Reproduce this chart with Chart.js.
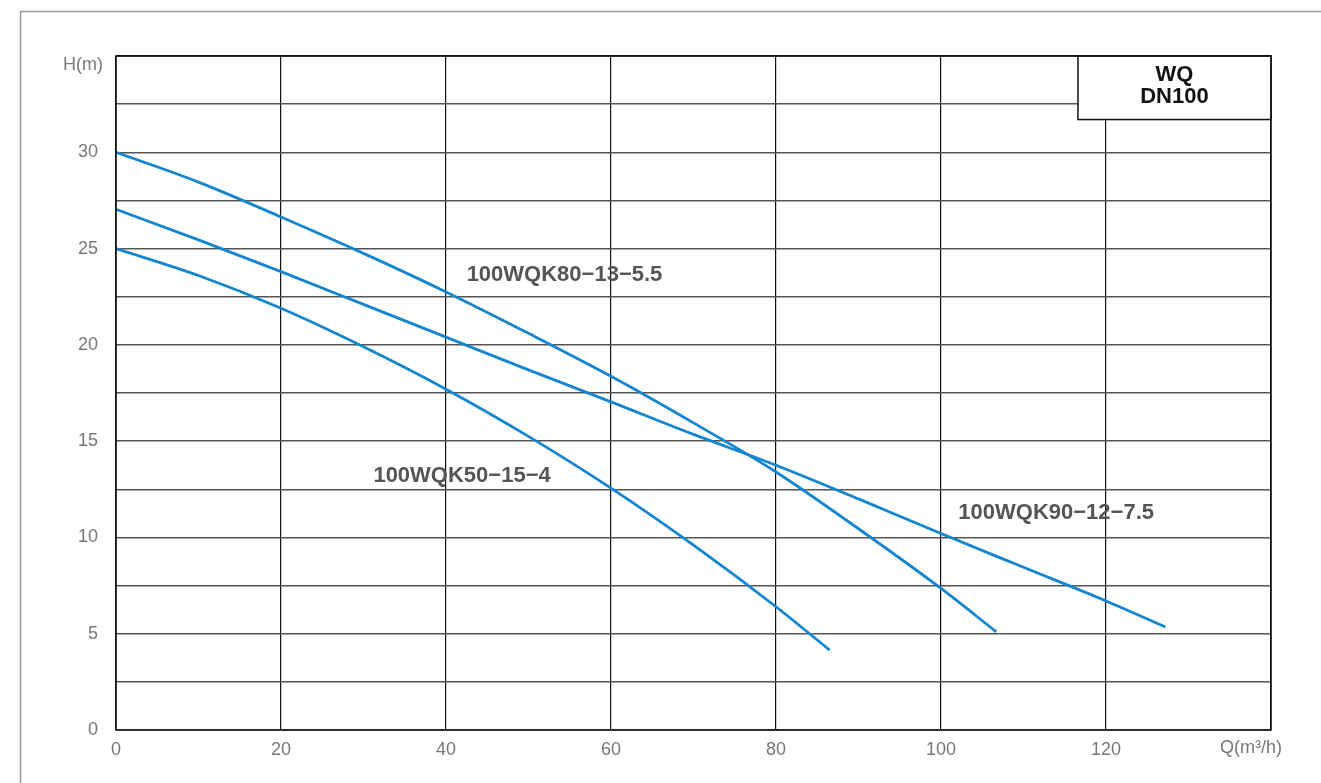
<!DOCTYPE html>
<html>
<head>
<meta charset="utf-8">
<script src="https://cdn.jsdelivr.net/npm/chart.js@4/dist/chart.umd.min.js"></script>
<style>
  html, body { margin: 0; padding: 0; background: #fff; }
  canvas { display: block; }
</style>
</head>
<body>
<canvas id="pumpChart" width="1321" height="783"></canvas>
<script>
// Curve data (Q in m3/h, H in m)
const q80 = [0, 10, 20, 30, 40, 50, 60, 70, 80, 90, 100, 106.7];
const h80 = [30, 28.45, 26.64, 24.75, 22.75, 20.6, 18.37, 15.95, 13.4, 10.45, 7.35, 5.1];

const q90 = [0, 10, 20, 30, 40, 50, 60, 70, 80, 90, 100, 110, 120, 127.2];
const h90 = [27.04, 25.45, 23.8, 22.1, 20.4, 18.7, 17.04, 15.35, 13.75, 12.0, 10.2, 8.45, 6.7, 5.35];

const q50 = [0, 10, 20, 30, 40, 50, 60, 70, 80, 86.5];
const h50 = [25, 23.6, 21.9, 19.9, 17.7, 15.25, 12.56, 9.6, 6.4, 4.15];

const seriesNames = ['100WQK80\u221213\u22125.5', '100WQK90\u221212\u22127.5', '100WQK50\u221215\u22124'];
// where each name sits (left edge Q, middle H)
const labelQ = [42.5, 102.1, 31.2];
const labelH = [23.65, 11.25, 13.2];

const boxTitle = ['WQ', 'DN100'];
const yAxisTitle = 'H(m)';
const xAxisTitle = 'Q(m\u00B3/h)';

function toPoints(qs, hs) {
    return qs.map((q, i) => ({ x: q, y: hs[i] }));
}

const blue = '#1485d1';
const FONT = '"Liberation Sans", Arial, sans-serif';

const decor = {
    id: 'decor',
    beforeDraw(chart) {
        const ctx = chart.ctx;
        ctx.save();
        // outer frame of the sheet
        ctx.strokeStyle = '#9a9a9a';
        ctx.lineWidth = 1.5;
        ctx.strokeRect(20.5, 11.5, 1400, 900);
        ctx.restore();
    },
    afterDatasetsDraw(chart) {
        const ctx = chart.ctx;
        const xs = chart.scales.x, ys = chart.scales.y;
        const area = chart.chartArea;
        ctx.save();

        // curve names
        ctx.fillStyle = '#555';
        ctx.font = 'bold 22px ' + FONT;
        ctx.textAlign = 'left';
        ctx.textBaseline = 'middle';
        seriesNames.forEach((name, i) => {
            ctx.fillText(name, xs.getPixelForValue(labelQ[i]), ys.getPixelForValue(labelH[i]));
        });

        // title box, top right
        const bx = xs.getPixelForValue(116.6);
        const by = area.top;
        const bw = area.right - bx;
        const bh = ys.getPixelForValue(31.7) - by;
        ctx.fillStyle = '#fff';
        ctx.fillRect(bx, by, bw, bh);
        ctx.strokeStyle = '#111';
        ctx.lineWidth = 1.5;
        ctx.strokeRect(bx, by, bw, bh);
        ctx.fillStyle = '#111';
        ctx.font = 'bold 22px ' + FONT;
        ctx.textAlign = 'center';
        ctx.fillText(boxTitle[0], bx + bw / 2, by + 19);
        ctx.fillText(boxTitle[1], bx + bw / 2, by + 41);

        // plot frame
        ctx.strokeStyle = '#111';
        ctx.lineWidth = 1.5;
        ctx.strokeRect(area.left, area.top, area.right - area.left, area.bottom - area.top);

        // axis units
        ctx.fillStyle = '#777';
        ctx.font = '18px ' + FONT;
        ctx.textAlign = 'right';
        ctx.textBaseline = 'middle';
        ctx.fillText(yAxisTitle, area.left - 13, area.top + 9);
        ctx.fillText(xAxisTitle, area.right + 11, area.bottom + 18);
        ctx.restore();
    }
};

const ctx = document.getElementById('pumpChart').getContext('2d');
new Chart(ctx, {
    type: 'line',
    data: {
        datasets: [
            { label: seriesNames[0], data: toPoints(q80, h80) },
            { label: seriesNames[1], data: toPoints(q90, h90) },
            { label: seriesNames[2], data: toPoints(q50, h50) }
        ].map(d => Object.assign(d, {
            borderColor: blue,
            borderWidth: 2.8,
            pointRadius: 0,
            fill: false,
            cubicInterpolationMode: 'monotone'
        }))
    },
    options: {
        responsive: false,
        animation: false,
        layout: { padding: { top: 56, right: 50, left: 0, bottom: 0 } },
        plugins: { legend: { display: false }, tooltip: { enabled: false } },
        scales: {
            x: {
                type: 'linear',
                min: 0,
                max: 140,
                afterFit(scale) { scale.height = 53; },
                border: { display: false },
                grid: { color: '#111', lineWidth: 1.2, drawTicks: false },
                ticks: {
                    stepSize: 20,
                    padding: 9,
                    color: '#777',
                    font: { family: FONT, size: 18 },
                    callback: v => (v === 140 ? '' : v)
                }
            },
            y: {
                min: 0,
                max: 35,
                afterFit(scale) { scale.width = 116; },
                border: { display: false },
                grid: {
                    color: c => (c.tick && c.tick.value === 35 ? '#111' : '#555'),
                    lineWidth: 1.4,
                    drawTicks: false
                },
                ticks: {
                    stepSize: 2.5,
                    padding: 18,
                    color: '#777',
                    autoSkip: false,
                    font: { family: FONT, size: 18 },
                    callback: v => (v === 35 ? '' : (v % 5 === 0 ? v : ''))
                }
            }
        }
    },
    plugins: [decor]
});
</script>
</body>
</html>
